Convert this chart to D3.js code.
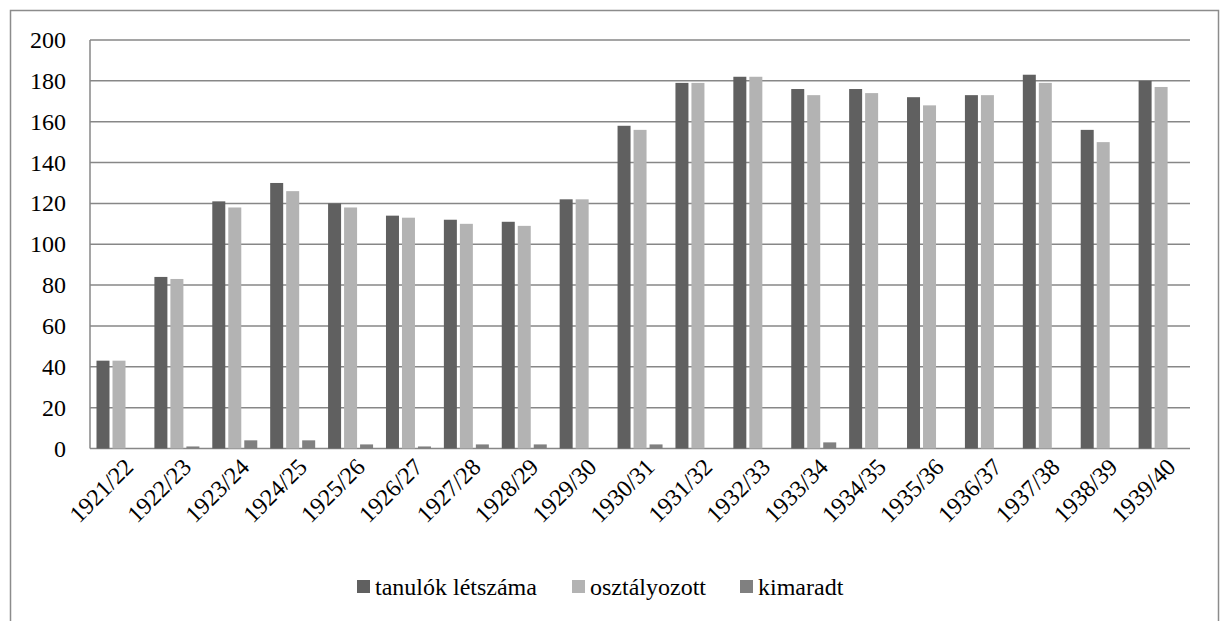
<!DOCTYPE html>
<html><head><meta charset="utf-8"><script src="https://cdn.jsdelivr.net/npm/d3@7"></script></head>
<body style="margin:0">
<svg id="s" width="1221" height="621"></svg>
<script>
const categories = ["1921/22","1922/23","1923/24","1924/25","1925/26","1926/27","1927/28","1928/29","1929/30","1930/31","1931/32","1932/33","1933/34","1934/35","1935/36","1936/37","1937/38","1938/39","1939/40"];
const seriesNames = ["tanulók létszáma", "osztályozott", "kimaradt"];
const tanulok = [43, 84, 121, 130, 120, 114, 112, 111, 122, 158, 179, 182, 176, 176, 172, 173, 183, 156, 180];
const osztalyozott = [43, 83, 118, 126, 118, 113, 110, 109, 122, 156, 179, 182, 173, 174, 168, 173, 179, 150, 177];
const kimaradt = [0, 1, 4, 4, 2, 1, 2, 2, 0, 2, 0, 0, 3, 0, 0, 0, 0, 0, 0];
const yTicks = [0, 20, 40, 60, 80, 100, 120, 140, 160, 180, 200];

const seriesValues = [tanulok, osztalyozott, kimaradt];
const colors = ["#606060", "#b3b3b3", "#808080"];

const svg = d3.select("#s");

svg.append("rect").attr("x", 10.5).attr("y", 10.5).attr("width", 1208).attr("height", 640)
  .attr("fill", "none").attr("stroke", "#8c8c8c").attr("stroke-width", 1.5);

const pLeft = 90, pRight = 1190, pTop = 40, pBottom = 448.5;

const x = d3.scaleBand().domain(categories).range([pLeft, pRight]).padding(0);
const xs = d3.scaleBand().domain(d3.range(3)).range([6.5, x.bandwidth() - 6.4]).paddingInner(0.1875).paddingOuter(0);
const y = d3.scaleLinear().domain([0, 200]).range([pBottom, pTop]);

svg.append("g").selectAll("line").data(yTicks).join("line")
  .attr("x1", pLeft).attr("x2", pRight)
  .attr("y1", d => y(d)).attr("y2", d => y(d))
  .attr("stroke", "#878787").attr("stroke-width", 1.5);

svg.append("line").attr("x1", pLeft).attr("x2", pLeft).attr("y1", pTop).attr("y2", pBottom)
  .attr("stroke", "#878787").attr("stroke-width", 1.5);

yTicks.forEach(d => {
  svg.append("text").attr("x", 66).attr("y", y(d) + 8).attr("font-size", 24)
    .attr("text-anchor", "end")
    .style("font-family", '"Liberation Serif"')
    .text(String(d));
});

const rows = [];
categories.forEach((c, i) => seriesValues.forEach((s, j) => rows.push({c, j, v: s[i]})));
svg.append("g").selectAll("rect").data(rows.filter(d => d.v > 0)).join("rect")
  .attr("x", d => x(d.c) + xs(d.j))
  .attr("width", xs.bandwidth())
  .attr("y", d => y(d.v))
  .attr("height", d => y(0) - y(d.v))
  .attr("fill", d => colors[d.j]);

categories.forEach(d => {
  svg.append("text")
    .attr("transform", `translate(${x(d) + x.bandwidth() / 2 + 4},${pBottom + 8}) rotate(-45)`)
    .attr("text-anchor", "end").attr("dy", "0.7em")
    .attr("font-size", 24)
    .style("font-family", '"Liberation Serif"')
    .text(d);
});

const legendX = [357, 572, 740];
seriesNames.forEach((n, j) => {
  svg.append("rect").attr("x", legendX[j]).attr("y", 580).attr("width", 13).attr("height", 13).attr("fill", colors[j]);
  svg.append("text").attr("x", legendX[j] + 18).attr("y", 595).attr("font-size", 24)
    .style("font-family", '"Liberation Serif"').text(n);
});
</script></body></html>
